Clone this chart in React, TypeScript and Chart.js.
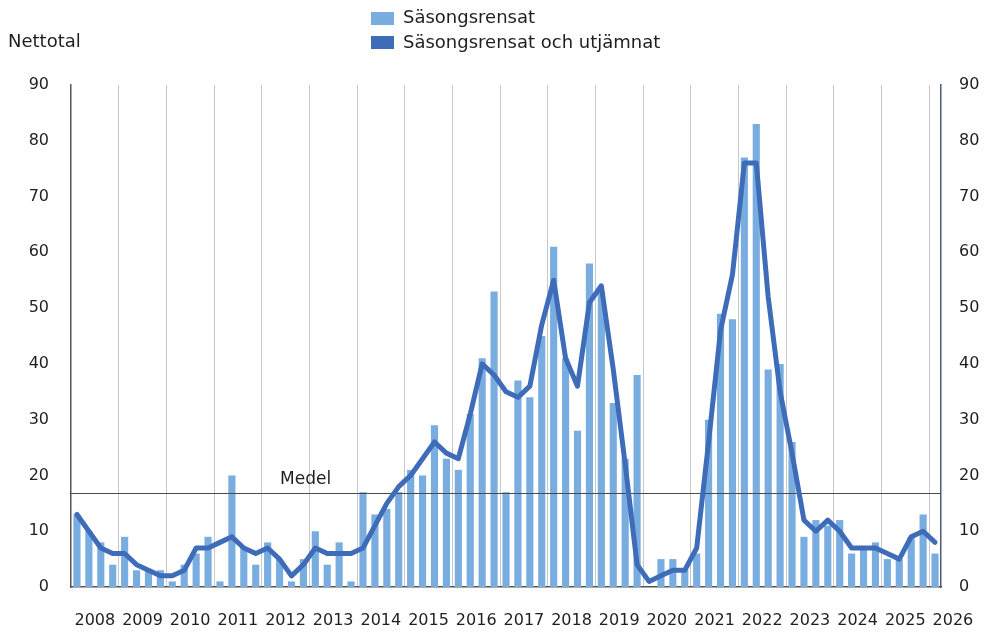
import React, { useEffect, useRef } from 'react';
import { Chart, registerables } from 'chart.js';

Chart.register(...registerables);

const FONT = '"DejaVu Sans", "Noto Sans", sans-serif';

const yearLabels = ['2008', '2009', '2010', '2011', '2012', '2013', '2014', '2015', '2016', '2017', '2018', '2019', '2020', '2021', '2022', '2023', '2024', '2025', '2026'];
const quarterNames = ['K1', 'K2', 'K3', 'K4'];

const seasonallyAdjusted = [
  13, 10, 8, 4, 9, 3, 3, 3, 1, 4, 6, 9, 1, 20, 7, 4, 8, 5, 1, 5,
  10, 4, 8, 1, 17, 13, 14, 17, 21, 20, 29, 23, 21, 31, 41, 53, 17, 37, 34, 45,
  61, 41, 28, 58, 53, 33, 23, 38, 0, 5, 5, 3, 6, 30, 49, 48, 77, 83, 39, 40,
  26, 9, 12, 11, 12, 6, 7, 8, 5, 5, 9, 13, 6,
];

const smoothed = [
  13, 10, 7, 6, 6, 4, 3, 2, 2, 3, 7, 7, 8, 9, 7, 6, 7, 5, 2, 4,
  7, 6, 6, 6, 7, 11, 15, 18, 20, 23, 26, 24, 23, 31, 40, 38, 35, 34, 36, 47,
  55, 41, 36, 51, 54, 39, 22, 4, 1, 2, 3, 3, 7, 26, 46, 56, 76, 76, 52, 35,
  24, 12, 10, 12, 10, 7, 7, 7, 6, 5, 9, 10, 8,
];

const meanValue = 16.8;
const yTicks = [0, 10, 20, 30, 40, 50, 60, 70, 80, 90];

const categories = yearLabels
  .flatMap((y) => quarterNames.map((q) => `${y} ${q}`))
  .slice(0, seasonallyAdjusted.length);

const BAR_COLOR = '#79ade0';
const LINE_COLOR = '#3e6cb9';
const TEXT_COLOR = '#1f1f1f';

const overlayPlugin = {
  id: 'overlay',
  afterDatasetDraw(chart: any, args: any) {
    if (args.index !== 0) return;
    const { ctx, chartArea } = chart;
    const y = chart.scales.y;
    const py = Math.round(y.getPixelForValue(meanValue)) + 0.5;
    ctx.save();
    ctx.strokeStyle = '#4a4a4a';
    ctx.lineWidth = 1;
    ctx.beginPath();
    ctx.moveTo(chartArea.left, py);
    ctx.lineTo(chartArea.right, py);
    ctx.stroke();
    ctx.restore();
  },
  afterDraw(chart: any) {
    const { ctx } = chart;
    const x = chart.scales.x;
    const y = chart.scales.y;
    const catW = x.getPixelForValue(1) - x.getPixelForValue(0);
    ctx.save();
    ctx.fillStyle = TEXT_COLOR;
    ctx.textBaseline = 'middle';
    // year labels
    ctx.font = `16px ${FONT}`;
    ctx.textAlign = 'center';
    yearLabels.forEach((lab, k) => {
      const idx = Math.min(4 * k, categories.length - 1);
      const left = x.getPixelForValue(idx) - catW / 2 + (4 * k - idx) * catW;
      ctx.fillText(lab, left + 2 * catW, 621);
    });
    // Medel label
    ctx.font = `17px ${FONT}`;
    ctx.textAlign = 'left';
    ctx.fillText('Medel', 280, y.getPixelForValue(meanValue) - 14);
    // axis title
    ctx.font = `18px ${FONT}`;
    ctx.fillText('Nettotal', 8, 42);
    // legend
    ctx.fillStyle = BAR_COLOR;
    ctx.fillRect(371, 12, 23, 13);
    ctx.fillStyle = LINE_COLOR;
    ctx.fillRect(371, 36, 23, 13);
    ctx.fillStyle = TEXT_COLOR;
    ctx.fillText('Säsongsrensat', 403, 18);
    ctx.fillText('Säsongsrensat och utjämnat', 403, 43);
    ctx.restore();
  },
};

export default function App() {
  const ref = useRef<HTMLCanvasElement>(null);
  useEffect(() => {
    document.body.style.margin = '0';
    const tickFont = { family: FONT, size: 16 };
    const chart = new Chart(ref.current as HTMLCanvasElement, {
      type: 'bar',
      data: {
        labels: categories,
        datasets: [
          {
            type: 'bar',
            label: 'Säsongsrensat',
            data: seasonallyAdjusted,
            backgroundColor: BAR_COLOR,
            barPercentage: 0.6,
            categoryPercentage: 1.0,
            order: 2,
            yAxisID: 'y',
          },
          {
            type: 'line',
            label: 'Säsongsrensat och utjämnat',
            data: smoothed,
            borderColor: LINE_COLOR,
            backgroundColor: LINE_COLOR,
            borderWidth: 5,
            pointRadius: 0,
            tension: 0,
            borderJoinStyle: 'round',
            borderCapStyle: 'round',
            order: 1,
            yAxisID: 'y',
          },
        ] as any,
      },
      options: {
        responsive: false,
        animation: false,
        layout: { padding: { top: 85, left: 0, right: 0, bottom: 0 } },
        plugins: {
          legend: { display: false },
          tooltip: { enabled: false },
          title: { display: false },
        },
        scales: {
          x: {
            type: 'category',
            offset: true,
            grid: {
              display: true,
              offset: true,
              drawTicks: false,
              lineWidth: 1,
              color: (c: any) => (c.index % 4 === 0 && c.index > 0 && c.index < categories.length ? '#c8c8c8' : 'rgba(0,0,0,0)'),
            },
            border: { display: true, color: '#555555', width: 1.5 },
            ticks: { display: false },
            afterFit: (s: any) => {
              s.height = 45;
            },
          },
          y: {
            position: 'left',
            min: 0,
            max: 90,
            afterBuildTicks: (s: any) => {
              s.ticks = yTicks.map((v) => ({ value: v }));
            },
            ticks: { padding: 22, color: TEXT_COLOR, font: tickFont },
            grid: { display: false, drawTicks: false },
            border: { display: true, color: '#555555', width: 1.5 },
            afterFit: (s: any) => {
              s.width = 71;
            },
          },
          y2: {
            position: 'right',
            min: 0,
            max: 90,
            afterBuildTicks: (s: any) => {
              s.ticks = yTicks.map((v) => ({ value: v }));
            },
            ticks: { padding: 18, color: TEXT_COLOR, font: tickFont },
            grid: { display: false, drawTicks: false },
            border: { display: true, color: '#4d5a78', width: 1.5 },
            afterFit: (s: any) => {
              s.width = 43;
            },
          },
        },
      } as any,
      plugins: [overlayPlugin],
    });
    return () => chart.destroy();
  }, []);
  return (
    <div style={{ position: 'relative', width: 984, height: 632 }}>
      <canvas ref={ref} width={984} height={632} style={{ display: 'block' }} />
    </div>
  );
}
